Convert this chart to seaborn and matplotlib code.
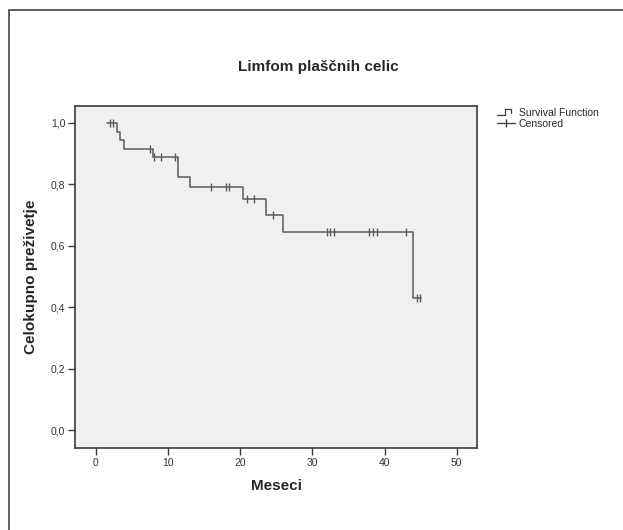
import matplotlib
matplotlib.use("Agg")
import matplotlib.pyplot as plt
import seaborn as sns
import pandas as pd
from matplotlib.lines import Line2D
from matplotlib.legend_handler import HandlerBase

# ---- data ----
step_times = [1.6, 2.95, 3.4, 3.9, 7.85, 11.4, 13.0, 20.4, 23.5, 25.9, 43.9, 45.0]
step_surv = [1.0, 0.972, 0.945, 0.915, 0.888, 0.823, 0.790, 0.751, 0.700, 0.646, 0.431, 0.431]

censor_times = [2.0, 2.4, 7.5, 8.0, 9.0, 11.0, 16.0, 18.0, 18.5, 20.9, 21.9, 24.5,
                32.0, 32.5, 33.0, 37.9, 38.4, 38.9, 43.0, 44.5, 44.9]
censor_surv = [1.0, 1.0, 0.915, 0.888, 0.888, 0.888, 0.790, 0.790, 0.790, 0.751, 0.751, 0.700,
               0.646, 0.646, 0.646, 0.646, 0.646, 0.646, 0.646, 0.431, 0.431]

x_ticks = [0, 10, 20, 30, 40, 50]
y_ticks = [0.0, 0.2, 0.4, 0.6, 0.8, 1.0]
y_tick_labels = ["0,0", "0,2", "0,4", "0,6", "0,8", "1,0"]

title = "Limfom plaščnih celic"
xlabel = "Meseci"
ylabel = "Celokupno preživetje"
legend_labels = ["Survival Function", "Censored"]

# ---- plotting ----
sns.set_theme(style="white")
plt.rcParams["font.family"] = ["Liberation Sans", "DejaVu Sans"]

curve_color = "#5a5a5a"
edge_color = "#3c3c3c"

fig = plt.figure(figsize=(6.23, 5.30), dpi=100)
ax = fig.add_axes([75 / 623, 1 - 448 / 530, (477 - 75) / 623, (448 - 106) / 530])
ax.set_facecolor("#f0f0f0")

steps_df = pd.DataFrame({"t": step_times, "s": step_surv})
cens_df = pd.DataFrame({"t": censor_times, "s": censor_surv})

sns.lineplot(data=steps_df, x="t", y="s", drawstyle="steps-post", color=curve_color,
             linewidth=1.1, ax=ax, estimator=None, sort=False)
sns.scatterplot(data=cens_df, x="t", y="s", marker="|", s=30, color=curve_color,
                linewidth=1.0, ax=ax)

ax.set_xlim(-2.9, 52.8)
ax.set_ylim(-0.058, 1.055)
ax.set_xticks(x_ticks)
ax.set_xticklabels([str(v) for v in x_ticks])
ax.set_yticks(y_ticks)
ax.set_yticklabels(y_tick_labels)
ax.tick_params(axis="both", direction="out", length=5, width=1, color=edge_color,
               labelsize=7.5, labelcolor="#333333", pad=2, bottom=True, left=True)

for sp in ax.spines.values():
    sp.set_color(edge_color)
    sp.set_linewidth(1.2)

ax.set_xlabel(xlabel, fontsize=11, fontweight="bold", labelpad=8)
ax.set_ylabel(ylabel, fontsize=11, fontweight="bold", labelpad=9)
fig.text(318 / 623, 1 - 67 / 530, title, ha="center", va="center",
         fontsize=11, fontweight="bold")


class StepHandler(HandlerBase):
    def create_artists(self, legend, orig_handle, xdescent, ydescent, width, height, fontsize, trans):
        x0 = -xdescent
        y0 = -ydescent
        xs = [x0, x0 + 0.45 * width, x0 + 0.45 * width, x0 + 0.8 * width, x0 + 0.8 * width]
        ys = [y0 + 0.1 * height, y0 + 0.1 * height, y0 + 0.9 * height, y0 + 0.9 * height, y0 + 0.4 * height]
        line = Line2D(xs, ys, color=edge_color, linewidth=0.9, transform=trans)
        return [line]


h_surv = Line2D([], [], color=edge_color)
h_cens = Line2D([], [], color=edge_color, marker="|", markersize=6, linewidth=0.9)
leg = fig.legend([h_surv, h_cens], legend_labels,
                 handler_map={h_surv: StepHandler()},
                 loc="upper left", bbox_to_anchor=(497 / 623, 1 - 108 / 530),
                 frameon=False, fontsize=7.5, handlelength=1.7, handletextpad=0.4,
                 labelspacing=0.1, borderpad=0, borderaxespad=0)

# outer frame lines (top and left) as in the reference
fig.add_artist(Line2D([9 / 623, 1], [1 - 10 / 530, 1 - 10 / 530], color="#444444",
                      linewidth=1.2, transform=fig.transFigure))
fig.add_artist(Line2D([9 / 623, 9 / 623], [0, 1 - 10 / 530], color="#444444",
                      linewidth=1.2, transform=fig.transFigure))

fig.savefig("out.png", dpi=100)
